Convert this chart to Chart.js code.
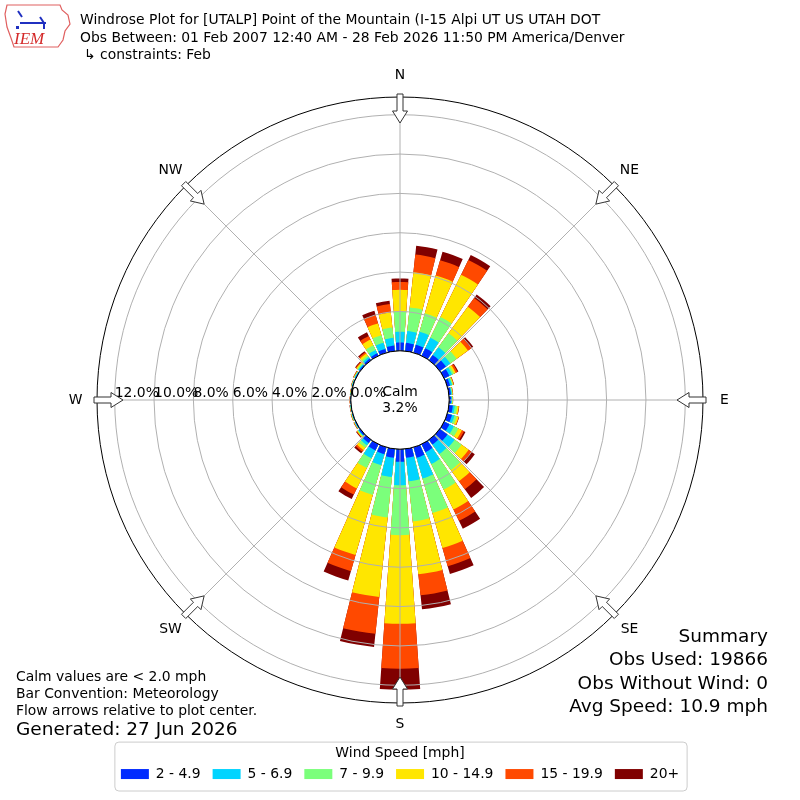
<!DOCTYPE html>
<html>
<head>
<meta charset="utf-8">
<script src="https://cdn.jsdelivr.net/npm/chart.js@4.4.1/dist/chart.umd.min.js"></script>
<style>
  html, body { margin: 0; padding: 0; background: #ffffff; }
  #wrap { width: 800px; height: 800px; position: relative; }
</style>
</head>
<body>
<div id="wrap"><canvas id="c" width="800" height="800"></canvas></div>
<script>
// ---------------- data ----------------
const directions = [0,10,20,30,40,50,60,70,80,90,100,110,120,130,140,150,160,170,
                    180,190,200,210,220,230,240,250,260,270,280,290,300,310,320,330,340,350];
const speedBins = ['2 - 4.9', '5 - 6.9', '7 - 9.9', '10 - 14.9', '15 - 19.9', '20+'];
const binColors = ['#002aff', '#00d4ff', '#7bff7b', '#ffe600', '#ff4900', '#800000'];

// frequency [%] of each speed bin per direction (direction the wind blows from)
const freq2to5 = [0.42,0.42,0.42,0.43,0.33,0.39,0.30,0.15,0.10,0.10,0.20,0.25,0.30,0.48,0.30,0.45,0.55,0.45,
                  0.64,0.45,0.36,0.35,0.20,0.08,0.04,0.03,0.02,0.02,0.02,0.03,0.04,0.06,0.10,0.14,0.20,0.28];
const freq5to7 = [0.55,0.60,0.69,0.59,0.49,0.27,0.15,0.10,0.05,0.04,0.10,0.13,0.25,0.45,0.60,0.67,1.10,1.20,
                  1.19,0.99,0.59,0.45,0.15,0.04,0.02,0.02,0.02,0.01,0.01,0.02,0.03,0.06,0.10,0.19,0.33,0.40];
const freq7to10 = [1.03,1.21,0.98,1.17,0.88,0.40,0.10,0.05,0.03,0.03,0.12,0.12,0.25,0.44,1.00,1.44,1.83,2.05,
                   2.54,2.06,1.57,0.55,0.15,0.04,0.02,0.02,0.01,0.01,0.01,0.02,0.03,0.06,0.10,0.26,0.39,0.52];
const freq10to15 = [1.10,1.80,1.99,2.39,1.66,0.71,0.10,0.03,0.02,0.02,0.08,0.10,0.20,0.44,0.70,1.13,1.85,2.70,
                    4.50,4.07,3.18,1.15,0.15,0.04,0.02,0.02,0.01,0.01,0.01,0.01,0.02,0.06,0.12,0.33,0.63,0.77];
const freq15to20 = [0.40,0.90,0.81,0.84,0.55,0.21,0.10,0.02,0.01,0.01,0.02,0.02,0.12,0.18,0.50,0.64,0.96,1.08,
                    2.29,1.88,0.85,0.35,0.10,0.03,0.02,0.01,0.01,0.01,0.01,0.01,0.02,0.04,0.08,0.20,0.45,0.43];
const freq20plus = [0.18,0.45,0.45,0.28,0.22,0.12,0.05,0.01,0.01,0.00,0.01,0.01,0.08,0.21,0.55,0.45,0.41,0.72,
                    1.06,0.67,0.49,0.25,0.10,0.03,0.01,0.01,0.01,0.00,0.00,0.01,0.01,0.04,0.07,0.21,0.22,0.17];

const compassLabels = ['N', 'NE', 'E', 'SE', 'S', 'SW', 'W', 'NW'];
const ringTicks = [0, 2, 4, 6, 8, 10, 12];
const calmPercent = 3.2;
const radialMin = -2.5;   // leaves room for the calm circle
const radialMax = 12.9;

const titleLines = [
  'Windrose Plot for [UTALP] Point of the Mountain (I-15 Alpi UT US UTAH DOT',
  'Obs Between: 01 Feb 2007 12:40 AM - 28 Feb 2026 11:50 PM America/Denver',
  '\u21b3 constraints: Feb'
];
const noteLines = ['Calm values are < 2.0 mph', 'Bar Convention: Meteorology', 'Flow arrows relative to plot center.'];
const generatedText = 'Generated: 27 Jun 2026';
const summaryLines = ['Summary', 'Obs Used: 19866', 'Obs Without Wind: 0', 'Avg Speed: 10.9 mph'];

// ---------------- build stacked (cumulative) series ----------------
const binSeries = [freq2to5, freq5to7, freq7to10, freq10to15, freq15to20, freq20plus];
const cumulative = [];
binSeries.forEach((vals, b) => {
  cumulative.push(vals.map((v, d) => v + (b > 0 ? cumulative[b - 1][d] : 0)));
});

// bars are 8 deg wide, separated by 2 deg gaps; the north bar is split in two halves
const BAR_DEG = 8, GAP_DEG = 2;
function polarSeries(vals) {
  const out = [vals[0], 0];
  for (let d = 1; d < vals.length; d++) out.push(vals[d], 0);
  out.push(vals[0]);
  return out;
}
const lastIndex = directions.length * 2;
function segmentAngle(i) {
  if (i === 0 || i === lastIndex) return BAR_DEG / 2;
  return i % 2 === 1 ? GAP_DEG : BAR_DEG;
}

const datasets = speedBins.map((label, b) => ({
  label: label,
  data: polarSeries(cumulative[b]),
  backgroundColor: binColors[b],
  borderWidth: 0,
  angle: (ctx) => segmentAngle(ctx.dataIndex)
}));

// ---------------- decoration plugin ----------------
const FONT = '"DejaVu Sans", sans-serif';
function roundRect(ctx, x, y, w, h, r) {
  ctx.beginPath();
  ctx.moveTo(x + r, y);
  ctx.arcTo(x + w, y, x + w, y + h, r);
  ctx.arcTo(x + w, y + h, x, y + h, r);
  ctx.arcTo(x, y + h, x, y, r);
  ctx.arcTo(x, y, x + w, y, r);
  ctx.closePath();
}
function drawLogo(ctx) {
  ctx.save();
  ctx.strokeStyle = '#e06060';
  ctx.lineWidth = 1.2;
  ctx.beginPath();
  ctx.moveTo(7, 5); ctx.lineTo(60, 5); ctx.lineTo(62, 10); ctx.lineTo(68, 15);
  ctx.lineTo(70, 24); ctx.lineTo(65, 31); ctx.lineTo(63, 40); ctx.lineTo(58, 47);
  ctx.lineTo(14, 47); ctx.lineTo(11, 38); ctx.lineTo(7, 27); ctx.lineTo(5, 14);
  ctx.closePath();
  ctx.stroke();
  ctx.strokeStyle = '#2030c0';
  ctx.lineWidth = 2;
  ctx.beginPath();
  ctx.moveTo(20, 23); ctx.lineTo(46, 23);
  ctx.moveTo(40, 17); ctx.lineTo(44, 23); ctx.lineTo(44, 29);
  ctx.moveTo(18, 11); ctx.lineTo(22, 17);
  ctx.stroke();
  ctx.fillStyle = '#2030c0';
  ctx.fillRect(16, 26, 3, 3);
  ctx.fillStyle = '#d42a2a';
  ctx.font = 'italic 17px "Liberation Serif", serif';
  ctx.textAlign = 'left';
  ctx.textBaseline = 'alphabetic';
  ctx.fillText('IEM', 14, 44);
  ctx.restore();
}

const windroseDecor = {
  id: 'windroseDecor',
  beforeDraw(chart) {
    const lg = chart.legend;
    if (!lg || !lg.legendHitBoxes || !lg.legendHitBoxes.length) return;
    const hb = lg.legendHitBoxes;
    const left = hb[0].left - 6;
    const last = hb[hb.length - 1];
    const right = last.left + last.width + 8;
    const top = lg.top + 39;
    const bottom = lg.bottom;
    const ctx = chart.ctx;
    ctx.save();
    roundRect(ctx, left, top, right - left, bottom - top, 4);
    ctx.fillStyle = '#ffffff';
    ctx.fill();
    ctx.strokeStyle = '#cccccc';
    ctx.lineWidth = 1;
    ctx.stroke();
    ctx.restore();
  },
  afterDraw(chart) {
    const s = chart.scales.r;
    const ctx = chart.ctx;
    const cx = s.xCenter, cy = s.yCenter;
    const R = s.drawingArea;
    const r0 = s.getDistanceFromCenterForValue(0);
    ctx.save();
    // calm circle
    ctx.beginPath();
    ctx.arc(cx, cy, r0, 0, Math.PI * 2);
    ctx.fillStyle = '#ffffff';
    ctx.fill();
    ctx.lineWidth = 1;
    ctx.strokeStyle = '#000000';
    ctx.stroke();
    ctx.fillStyle = '#000000';
    ctx.font = '13.9px ' + FONT;
    ctx.textAlign = 'center';
    ctx.textBaseline = 'alphabetic';
    ctx.fillText('Calm', cx, cy - 4.3);
    ctx.fillText(calmPercent.toFixed(1) + '%', cx, cy + 12);
    // radial tick labels along the west axis
    ctx.textAlign = 'left';
    ringTicks.forEach(v => {
      const d = s.getDistanceFromCenterForValue(v);
      ctx.fillText(v.toFixed(1) + '%', cx - d, cy - 3.5);
    });
    // flow arrows and compass labels
    compassLabels.forEach((lab, i) => {
      const a = i * 45 * Math.PI / 180;
      const ux = Math.sin(a), uy = -Math.cos(a);
      const vx = Math.cos(a), vy = Math.sin(a);
      const tip = R - 26, base = R - 14, tail = R + 3, hw = 7.5, sw = 3;
      const pts = [[tip, 0], [base, hw], [base, sw], [tail, sw], [tail, -sw], [base, -sw], [base, -hw]];
      ctx.beginPath();
      pts.forEach((p, k) => {
        const x = cx + ux * p[0] + vx * p[1];
        const y = cy + uy * p[0] + vy * p[1];
        if (k === 0) ctx.moveTo(x, y); else ctx.lineTo(x, y);
      });
      ctx.closePath();
      ctx.fillStyle = '#ffffff';
      ctx.fill();
      ctx.strokeStyle = '#333333';
      ctx.lineWidth = 1;
      ctx.stroke();
      const lr = R + 21.5;
      ctx.fillStyle = '#000000';
      ctx.textAlign = 'center';
      ctx.textBaseline = 'middle';
      ctx.fillText(lab, cx + ux * lr, cy + uy * lr);
    });
    // header
    drawLogo(ctx);
    ctx.fillStyle = '#000000';
    ctx.textAlign = 'left';
    ctx.textBaseline = 'alphabetic';
    ctx.font = '13.9px ' + FONT;
    ctx.fillText(titleLines[0], 80, 24);
    ctx.fillText(titleLines[1], 80, 42);
    ctx.fillText(titleLines[2], 84, 59);
    // notes bottom-left
    noteLines.forEach((t, k) => ctx.fillText(t, 16, 681 + k * 17));
    ctx.font = '18.5px ' + FONT;
    ctx.fillText(generatedText, 16, 735);
    // summary bottom-right
    ctx.textAlign = 'right';
    const sumBase = [642, 665, 689, 712];
    summaryLines.forEach((t, k) => ctx.fillText(t, 768, sumBase[k]));
    ctx.restore();
  }
};

// ---------------- chart ----------------
Chart.defaults.font.family = FONT;
Chart.defaults.color = '#000000';

new Chart(document.getElementById('c'), {
  type: 'polarArea',
  data: { labels: compassLabels, datasets: datasets },
  options: {
    responsive: false,
    animation: false,
    events: [],
    layout: { padding: { top: 97, left: 10, right: 10, bottom: 9 } },
    scales: {
      r: {
        type: 'radialLinear',
        min: radialMin,
        max: radialMax,
        startAngle: 0,
        afterBuildTicks: (scale) => {
          scale.ticks = ringTicks.concat([radialMax]).map(v => ({ value: v }));
        },
        ticks: { display: false, z: 1 },
        grid: {
          z: 1,
          circular: true,
          color: (ctx) => (ctx.tick && (ctx.tick.value >= radialMax || ctx.tick.value === 0)) ? '#000000' : '#b0b0b0',
          lineWidth: 1
        },
        angleLines: { display: true, color: '#b0b0b0', lineWidth: 1 },
        pointLabels: { display: false }
      }
    },
    plugins: {
      tooltip: { enabled: false },
      legend: {
        position: 'bottom',
        align: 'center',
        onClick: () => {},
        title: {
          display: true,
          text: 'Wind Speed [mph]',
          color: '#000000',
          font: { size: 13.9, lineHeight: '9px' },
          padding: { top: 43, bottom: 0 }
        },
        labels: {
          boxWidth: 28,
          boxHeight: 10,
          padding: 12,
          color: '#000000',
          font: { size: 13.9 },
          generateLabels: (chart) => chart.data.datasets.map((ds, i) => ({
            text: ds.label,
            fillStyle: ds.backgroundColor,
            strokeStyle: ds.backgroundColor,
            lineWidth: 0,
            hidden: false,
            datasetIndex: i
          }))
        }
      }
    }
  },
  plugins: [windroseDecor]
});
</script>
</body>
</html>
